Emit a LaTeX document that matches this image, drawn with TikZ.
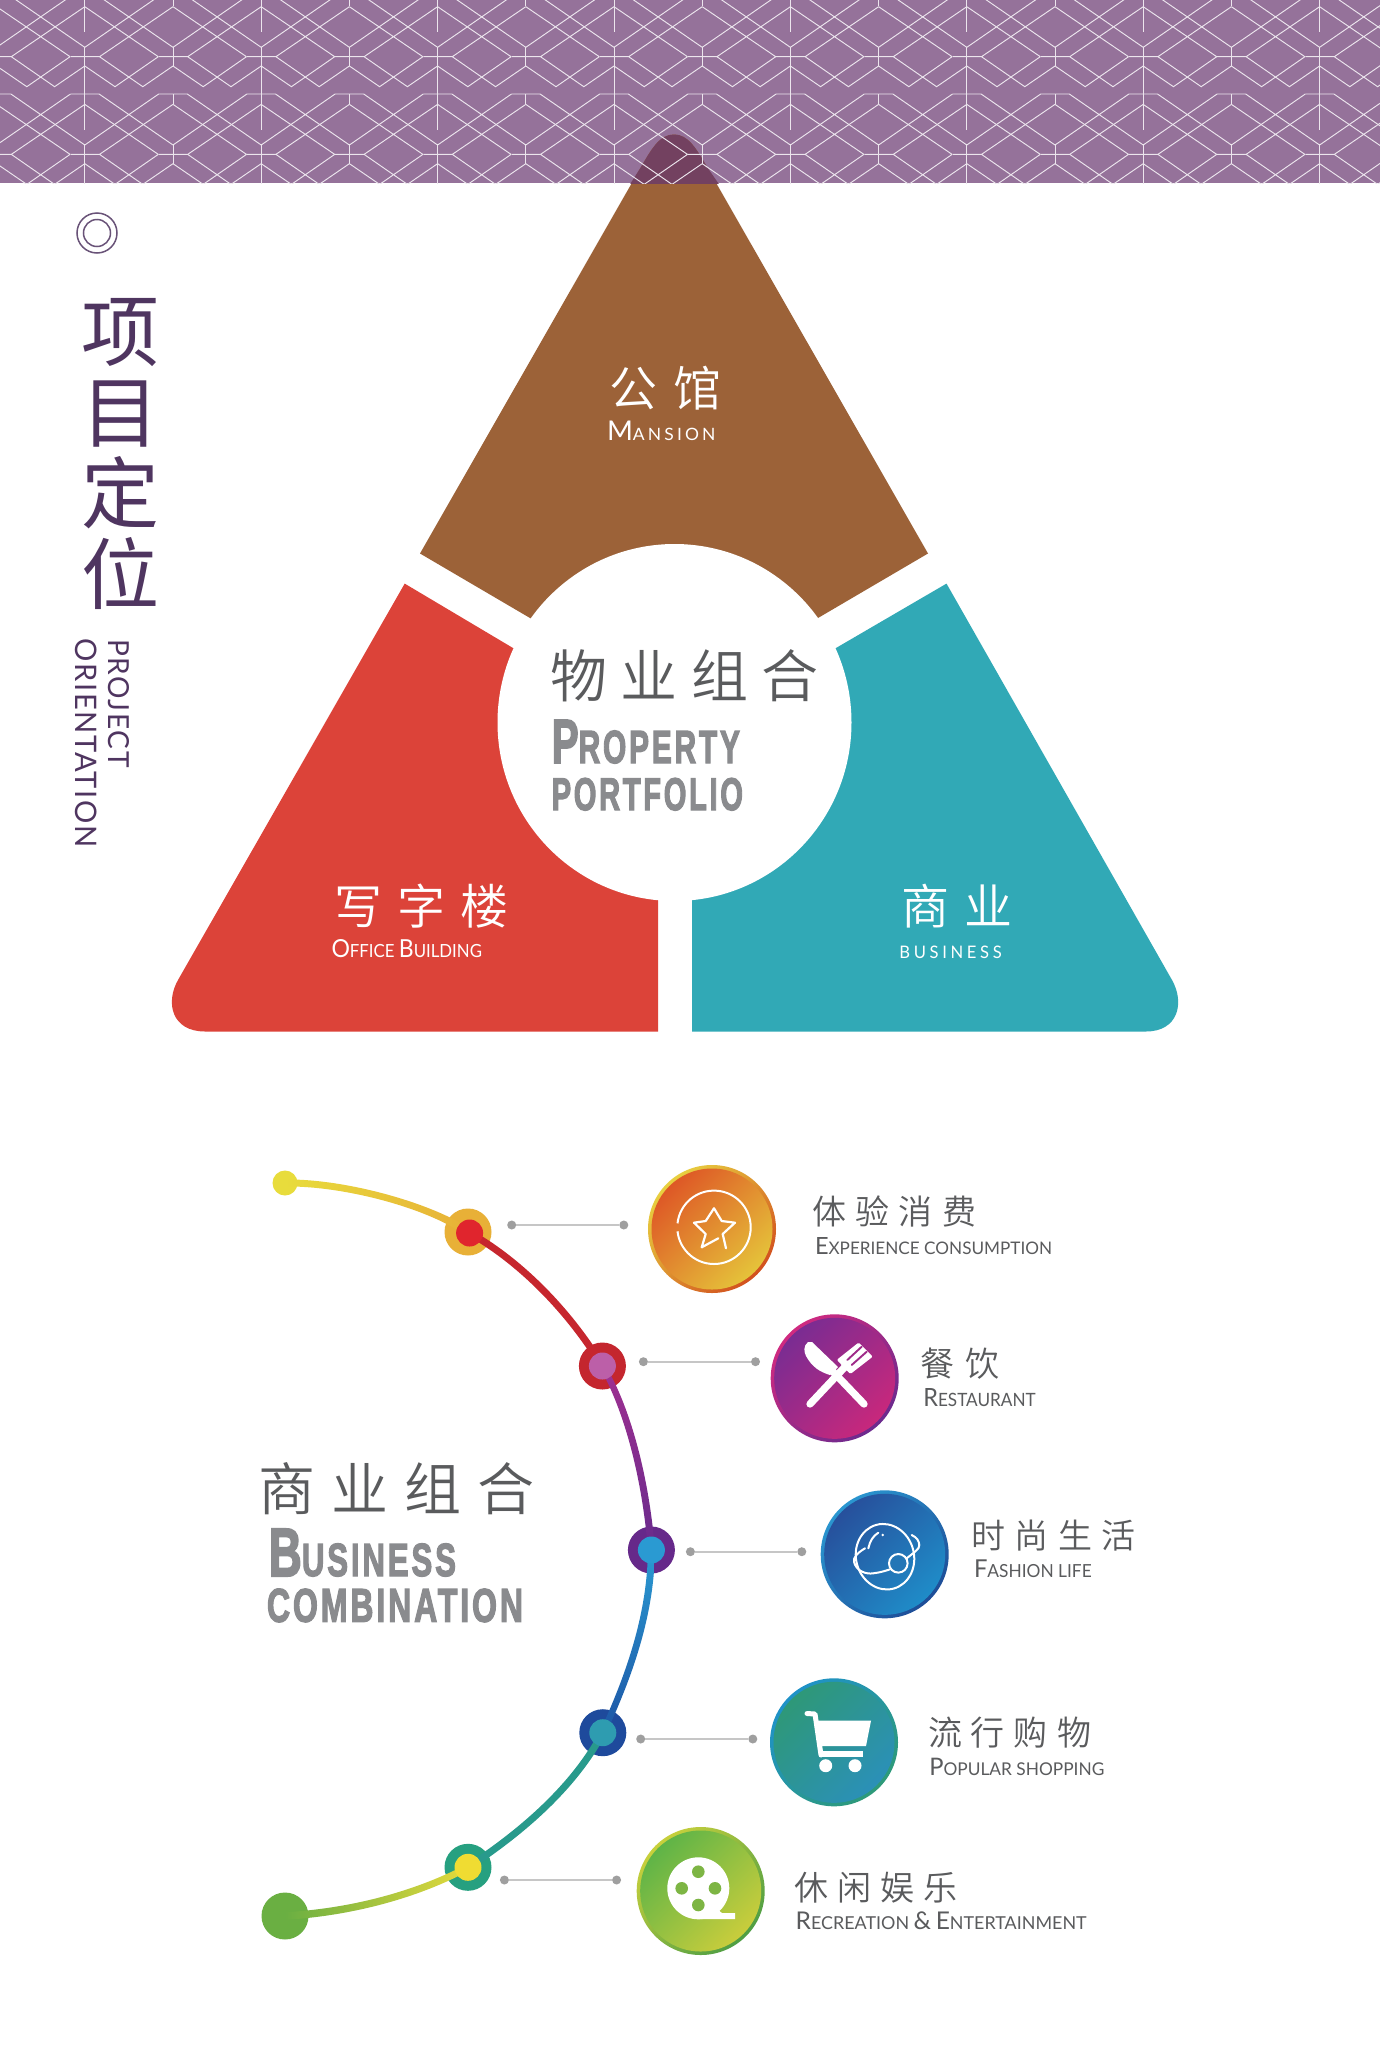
\documentclass[tikz,border=0pt]{standalone}
\usepackage{fontspec}
\usepackage{graphicx}
\usetikzlibrary{shapes.geometric,calc}
\newfontfamily\cjk{Noto Sans CJK SC DemiLight}
\newfontfamily\cjkb{Noto Sans CJK SC}
\newfontfamily\lato{Lato}
\newfontfamily\impactf[FakeBold=3]{Liberation Sans Bold}
\definecolor{banner}{HTML}{95729A}
\definecolor{apexc}{HTML}{734160}
\definecolor{brownc}{HTML}{9C6238}
\definecolor{redc}{HTML}{DC4339}
\definecolor{tealc}{HTML}{31A9B6}
\definecolor{titlec}{HTML}{4F3560}
\definecolor{inkc}{HTML}{5A5B5D}
\definecolor{heavyc}{HTML}{8A8B8E}
\definecolor{reelc}{HTML}{7DB544}
\definecolor{slitc}{HTML}{9E2A88}
\newcommand{\cjkrow}[7]{%
  \pgfmathsetmacro\cxx{#2-#4/2}\pgfmathsetmacro\cyy{#3+.38*#4}\pgfmathsetmacro\lsp{(#5-#4)/#4*100}%
  \node[anchor=base west,inner sep=0pt,outer sep=0pt,text=#6] (#1) at (\cxx,\cyy)
    {\fontsize{#4}{#4}\selectfont\cjk\addfontfeatures{LetterSpace=\lsp}#7};}
\newcommand{\fitbox}[7]{\node[anchor=base west,inner sep=0pt,outer sep=0pt,text=#6] (#1) at (#2,#3) {\resizebox{#4pt}{#5pt}{#7}};}
\newcommand{\fitrot}[7]{\node[anchor=base west,inner sep=0pt,outer sep=0pt,rotate=-90,text=#6] (#1) at (#2,#3) {\resizebox{#4pt}{#5pt}{#7}};}
\newcommand{\smc}[2]{{\lato\fontsize{24}{24}\selectfont #1\fontsize{17.5}{17.5}\selectfont #2}}
\newcommand{\hvy}[2]{{\impactf\fontsize{#1}{#1}\selectfont\addfontfeatures{LetterSpace=9}#2}}
\tikzset{
  hubdisc/.style={ellipse,fill=white,inner sep=0pt,minimum width=354pt,minimum height=357pt},
  coinrim/.style={circle,inner sep=0pt,minimum size=128pt},
  coinface/.style={circle,inner sep=0pt,minimum size=121pt},
  graydot/.style={circle,inner sep=0pt,minimum size=9pt,fill=gray!75},
  leader/.style={draw=gray!45,line width=1.6pt},
  outerdot/.style={circle,inner sep=0pt,minimum size=47pt},
  innerdot/.style={circle,inner sep=0pt,minimum size=27pt},
  seg/.style={line width=7pt},
  icon/.style={draw=white,line width=2.2pt,line cap=round,line join=round},
  ringmark/.style={circle,draw=titlec!85,line width=1.5pt,inner sep=0pt}
}
\begin{document}
\begin{tikzpicture}[x=1pt,y=-1pt]
\useasboundingbox (0,0) rectangle (1380,2048);
\fill[white] (0,0) rectangle (1380,2048);
\fill[banner] (0,0) rectangle (1380,183);
% triangle pieces
\fill[brownc] (928,553.5) -- (818,618) -- (674,703) -- (530,618) -- (420,553.5) -- (641,167)
  .. controls (652,148) and (660,134.5) .. (674,134.5) .. controls (688,134.5) and (696,148) .. (707,167) -- cycle;
\fill[redc] (404.7,583.6) -- (178,980) .. controls (165,1003) and (172,1031.5) .. (205,1031.5)
  -- (658,1031.5) -- (658,890) -- (674,724) -- (513,648) -- cycle;
\fill[tealc] (946.5,583.6) -- (1172,980) .. controls (1185,1003) and (1178,1031.5) .. (1146,1031.5)
  -- (692,1031.5) -- (692,890) -- (674,724) -- (836,648) -- cycle;
\node[hubdisc] (hub) at (674.5,722.5) {};
% banner overlay and pattern
\begin{scope}
\clip (0,0) rectangle (1380,183);
\fill[apexc] (641,167) .. controls (652,148) and (660,134.5) .. (674,134.5)
  .. controls (688,134.5) and (696,148) .. (707,167) -- (730,200) -- (620,200) -- cycle;
\foreach \r in {-1,0,1,2}{
 \foreach \k in {-1,...,16}{
  \pgfmathsetmacro\xx{84.8+88.2*\k}\pgfmathsetmacro\yy{56.7+97.67*\r}
  \begin{scope}[shift={(\xx,\yy)}]
  \draw[white!82!banner,line width=.95pt,line join=miter]
    (14.7,0)--(58,30)--(88.2,9.3) (73.5,0)--(30.2,30)--(0,9.3)
    (14.7,0)--(88.2,-50) (73.5,0)--(0,-50)
    (14.3,37.3)--(88.2,88.3) (73.9,37.3)--(0,88.3)
    (-14.3,0)--(14.7,0) (-14.3,37.3)--(14.3,37.3);
  \ifodd\k
   \draw[white!82!banner,line width=.95pt] (0,-10)--(0,9.3) (0,37.3)--(0,47.3);
  \else
   \draw[white!82!banner,line width=.95pt] (0,-10)--(0,73.3);
  \fi
  \end{scope}
 }}
\end{scope}
% heading block
\node[ringmark,minimum size=40pt] (ringa) at (97,233) {};
\node[ringmark,minimum size=27pt] (ringb) at (97,233) {};
\node[align=center,inner sep=0pt,text=titlec,font=\fontsize{78}{80.7}\selectfont\cjkb] (ttl) at (120,454) {项\\目\\定\\位};
\fitrot{ena}{108}{639}{128.7}{21}{titlec}{\lato\addfontfeatures{LetterSpace=6}PROJECT}
\fitrot{enb}{75}{638}{210}{21.5}{titlec}{\lato\addfontfeatures{LetterSpace=6}ORIENTATION}
% triangle labels
\cjkrow{mgcn}{633}{388}{48}{65}{white}{公馆}
\fitbox{mgen}{607}{440}{108.5}{19.5}{white}{{\lato\fontsize{24}{24}\selectfont M\fontsize{15}{15}\selectfont\addfontfeatures{LetterSpace=18}ANSION}}
\cjkrow{ofcn}{358}{906}{48}{63.5}{white}{写字楼}
\fitbox{ofen}{331.5}{957.3}{150.5}{18}{white}{\smc{O}{FFICE }\smc{B}{UILDING}}
\cjkrow{bucn}{925}{906}{48}{63.5}{white}{商业}
\fitbox{buen}{899.4}{958.3}{102.4}{12.5}{white}{\lato\addfontfeatures{LetterSpace=22}BUSINESS}
\cjkrow{ppcn}{578.5}{676}{57}{70.6}{inkc}{物业组合}
\fitbox{ppa}{551.7}{763}{188.3}{43}{heavyc}{\hvy{43}{P}\hvy{32}{ROPERTY}}
\fitbox{ppb}{551.7}{810}{191.3}{32}{heavyc}{\hvy{32}{PORTFOLIO}}
% lower title
\cjkrow{bccn}{287}{1488.5}{57}{73}{inkc}{商业组合}
\fitbox{bca}{268.7}{1576}{187.3}{47}{heavyc}{\hvy{47}{B}\hvy{32}{USINESS}}
\fitbox{bcb}{267}{1621.7}{256}{33}{heavyc}{\hvy{33}{COMBINATION}}
% timeline: outer rings
\node[circle,inner sep=0pt,minimum size=25pt,fill={rgb,255:red,232;green,220;blue,60}] (st) at (285,1183) {};
\node[outerdot,fill={rgb,255:red,232;green,176;blue,55}] (n1) at (468,1232) {};
\node[outerdot,fill={rgb,255:red,196;green,38;blue,46}] (n2) at (602.4,1366) {};
\node[outerdot,fill={rgb,255:red,102;green,41;blue,138}] (n3) at (651.4,1550) {};
\node[outerdot,fill={rgb,255:red,30;green,74;blue,156}] (n4) at (602.8,1732.7) {};
\node[outerdot,fill={rgb,255:red,38;green,160;blue,128}] (n5) at (468,1867.3) {};
\node[outerdot,fill={rgb,255:red,106;green,175;blue,66}] (en) at (285,1916) {};
% timeline: segments
\shade[left color={rgb,255:red,232;green,220;blue,60},right color={rgb,255:red,232;green,176;blue,55}]
  ($(st.center)+(0,-3.5)$) .. controls (340,1178.5) and (425,1200) .. ($(n1.center)+(2,-3.5)$)
  -- ($(n1.center)+(-2,3.5)$) .. controls (425,1206.5) and (340,1185.5) .. ($(st.center)+(0,3.5)$) -- cycle;
\draw[seg,draw={rgb,255:red,198;green,38;blue,46}] (n1.center) .. controls (515,1258) and (565,1305) .. (n2.center);
\shade[top color={rgb,255:red,160;green,48;blue,145},bottom color={rgb,255:red,104;green,42;blue,140}]
  ($(n2.center)+(-3.5,0)$) .. controls (624.5,1410) and (642.5,1480) .. ($(n3.center)+(-3.5,0)$)
  -- ($(n3.center)+(3.5,0)$) .. controls (649.5,1480) and (631.5,1410) .. ($(n2.center)+(3.5,0)$) -- cycle;
\shade[top color={rgb,255:red,42;green,154;blue,210},bottom color={rgb,255:red,29;green,85;blue,165}]
  ($(n3.center)+(-3.5,0)$) .. controls (647.5,1610) and (628.5,1670) .. ($(n4.center)+(-3.5,0)$)
  -- ($(n4.center)+(3.5,0)$) .. controls (635.5,1670) and (654.5,1610) .. ($(n3.center)+(3.5,0)$) -- cycle;
\draw[seg,draw={rgb,255:red,40;green,154;blue,140}] (n4.center) .. controls (575,1785) and (525,1830) .. (n5.center);
\shade[left color={rgb,255:red,106;green,175;blue,66},right color={rgb,255:red,228;green,218;blue,60}]
  ($(en.center)+(0,-3.8)$) .. controls (355,1908.3) and (420,1889.3) .. ($(n5.center)+(0,-3.8)$)
  -- ($(n5.center)+(0,3.8)$) .. controls (420,1896.7) and (355,1915.7) .. ($(en.center)+(0,3.8)$) -- cycle;
% timeline: inner dots
\node[innerdot,fill={rgb,255:red,224;green,37;blue,45}] (i1) at (469.6,1233) {};
\node[innerdot,fill={rgb,255:red,188;green,95;blue,168}] (i2) at (602.4,1366) {};
\node[innerdot,fill={rgb,255:red,42;green,154;blue,210}] (i3) at (651.4,1550) {};
\node[innerdot,fill={rgb,255:red,46;green,156;blue,176}] (i4) at (602.8,1732.7) {};
\node[innerdot,fill={rgb,255:red,240;green,220;blue,50}] (i5) at (468,1867.3) {};
% leaders
\foreach \nm/\xa/\xb/\yy in {a/511.7/623.8/1225,b/643.4/755.5/1361.7,c/690.4/801.8/1551.7,d/640.7/752.8/1739,e/504.4/616.6/1880}{
  \node[graydot] (l\nm1) at (\xa,\yy) {};
  \node[graydot] (l\nm2) at (\xb,\yy) {};
  \draw[leader] (l\nm1) -- (l\nm2);
}
% coin 1
\node[coinrim,top color={rgb,255:red,232;green,208;blue,64},bottom color={rgb,255:red,210;green,80;blue,30},shading angle=45] (ca) at (712,1229) {};
\node[coinface,top color={rgb,255:red,222;green,88;blue,38},bottom color={rgb,255:red,229;green,195;blue,58},shading angle=45] (cai) at (712,1229) {};
\node[circle,draw=white,line width=2pt,inner sep=0pt,minimum size=73.4pt,dash pattern=on 111.3pt off 8pt on 111.3pt off 0pt] (starring) at (714,1227.3) {};
\draw[icon] (726,1248.3)--(722.7,1234)--(735,1222.7)--(721.7,1221)--(714,1208.3)--(705.7,1221)--(694,1222.7)--(705.7,1234)--(701.7,1247.3)--(718.3,1238.3);
% coin 2
\node[coinrim,top color={rgb,255:red,208;green,42;blue,128},bottom color={rgb,255:red,107;green,42;blue,142},shading angle=45] (cb) at (834.7,1378.3) {};
\node[coinface,top color={rgb,255:red,122;green,44;blue,146},bottom color={rgb,255:red,200;green,40;blue,124},shading angle=45] (cbi) at (834.7,1378.3) {};
\draw[icon,line width=7.3pt] (810,1404)--(848.3,1363.3);
\draw[icon,line width=7.3pt] (864,1404)--(828.3,1366.7);
\fill[white] (808,1342) .. controls (803,1346) and (804,1352) .. (806,1356) .. controls (812,1367) and (820,1372) .. (830,1375) -- (838,1367) -- (812,1342) -- cycle;
\draw[icon,fill=white,line width=3pt] (839,1360)--(858.5,1344.5)--(870.5,1356.5)--(850.5,1372)--cycle;
\draw[draw=slitc,line width=1.9pt,line cap=round] (847.3,1360)--(861.7,1346.7) (851.7,1365)--(866.7,1351.7);
% coin 3
\node[coinrim,top color={rgb,255:red,42;green,150;blue,208},bottom color={rgb,255:red,30;green,77;blue,151},shading angle=45] (cc) at (884.7,1554.3) {};
\node[coinface,top color={rgb,255:red,39;green,80;blue,156},bottom color={rgb,255:red,31;green,140;blue,200},shading angle=45] (cci) at (884.7,1554.3) {};
\node[ellipse,draw=white,line width=2pt,inner sep=0pt,minimum width=58pt,minimum height=66pt,rotate=15] (body) at (885,1556.7) {};
\draw[icon,line width=2pt] (865,1548.3) .. controls (857,1553) and (853,1558) .. (854,1561.7) .. controls (856,1571) and (866,1574.5) .. (873.3,1573.3) .. controls (880,1572.5) and (885,1571) .. (890,1569.3);
\draw[icon,line width=2pt] (906.7,1558.3) .. controls (913,1553) and (920,1549) .. (919.3,1545) .. controls (919,1541) and (917,1537.5) .. (911.7,1535);
\draw[icon,line width=2pt] (868.3,1548.3) .. controls (870,1541) and (873,1536) .. (878.3,1532.7);
\fill[white] (882.7,1535) circle[radius=1.4pt];
\node[circle,draw=white,line width=2pt,fill={rgb,255:red,36;green,118;blue,182},inner sep=0pt,minimum size=18.6pt] (moon) at (898.3,1563.3) {};
% coin 4
\node[coinrim,top color={rgb,255:red,31;green,146;blue,200},bottom color={rgb,255:red,46;green,154;blue,120},shading angle=45] (cd) at (834,1742.3) {};
\node[coinface,top color={rgb,255:red,46;green,152;blue,120},bottom color={rgb,255:red,43;green,144;blue,184},shading angle=45] (cdi) at (834,1742.3) {};
\fill[white] (815,1720.7)--(871,1720.7)--(866,1746)--(819.3,1746)--cycle;
\fill[white] (819.3,1751) rectangle (862.7,1756.7);
\draw[icon,line width=5pt] (807,1713.5)--(815,1714)--(821,1755);
\fill[white] (825.7,1765.7) circle[radius=6.5pt] (855,1765.7) circle[radius=6.5pt];
% coin 5
\node[coinrim,top color={rgb,255:red,200;green,208;blue,60},bottom color={rgb,255:red,78;green,158;blue,68},shading angle=45] (ce) at (700.7,1891) {};
\node[coinface,top color={rgb,255:red,95;green,180;blue,71},bottom color={rgb,255:red,201;green,205;blue,60},shading angle=45] (cei) at (700.7,1891) {};
\fill[white] (698.3,1888.3) circle[radius=31pt];
\fill[white] (700,1919)--(735,1919)--(735,1913)--(722,1913)--(712,1905)--cycle;
\fill[reelc] (698.3,1871.7) circle[radius=6.3pt] (681.7,1888.3) circle[radius=6.3pt] (715,1888.3) circle[radius=6.3pt] (698.3,1905) circle[radius=6.3pt];
% item labels
\cjkrow{t1}{829.3}{1212}{34}{43.3}{inkc}{体验消费}
\fitbox{e1}{815}{1254}{237}{17}{inkc}{\smc{E}{XPERIENCE CONSUMPTION}}
\cjkrow{t2}{937.3}{1363.3}{34}{45}{inkc}{餐饮}
\fitbox{e2}{923.3}{1406.7}{112.4}{18}{inkc}{\smc{R}{ESTAURANT}}
\cjkrow{t3}{988.3}{1536}{34}{43.5}{inkc}{时尚生活}
\fitbox{e3}{974}{1577.7}{117.7}{17.7}{inkc}{\smc{F}{ASHION LIFE}}
\cjkrow{t4}{945}{1732.3}{34}{43}{inkc}{流行购物}
\fitbox{e4}{929.3}{1775}{175}{17.3}{inkc}{\smc{P}{OPULAR SHOPPING}}
\cjkrow{t5}{811.7}{1887.7}{34}{42.8}{inkc}{休闲娱乐}
\fitbox{e5}{795.7}{1929.3}{291}{17.7}{inkc}{\smc{R}{ECREATION }\smc{\&}{ }\smc{E}{NTERTAINMENT}}
\end{tikzpicture}
\end{document}
